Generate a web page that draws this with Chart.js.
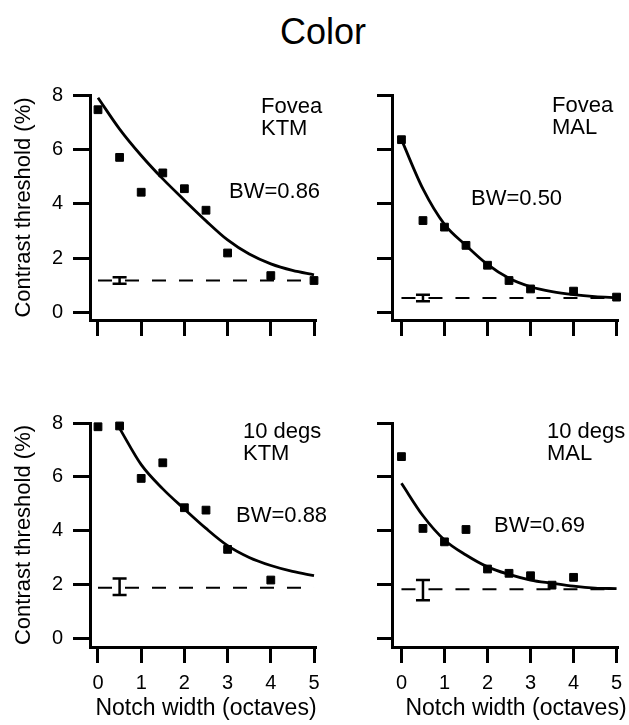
<!DOCTYPE html>
<html><head><meta charset="utf-8">
<script src="https://cdn.jsdelivr.net/npm/chart.js@4.4.1/dist/chart.umd.min.js"></script>
<style>
html,body{margin:0;padding:0;background:#fff;}
body{width:629px;height:725px;position:relative;overflow:hidden;font-family:"Liberation Sans",Arial,sans-serif;}
#title{position:absolute;left:0;width:646px;top:12px;text-align:center;font-size:36px;line-height:40px;color:#000;}
.panel{position:absolute;}
</style></head><body>
<div id="title">Color</div>
<div class="panel" style="left:0px;top:80px;width:330px;height:260px"><canvas id="c1"></canvas></div>
<div class="panel" style="left:330px;top:80px;width:299px;height:260px"><canvas id="c2"></canvas></div>
<div class="panel" style="left:0px;top:410px;width:330px;height:315px"><canvas id="c3"></canvas></div>
<div class="panel" style="left:330px;top:410px;width:299px;height:315px"><canvas id="c4"></canvas></div>
<script>
// ---- data ----
const xTicks = [0, 1, 2, 3, 4, 5];
const yTicks = [0, 2, 4, 6, 8];
const xTitle = 'Notch width (octaves)';
const yTitle = 'Contrast threshold (%)';

const notchFovea = [0, 0.5, 1, 1.5, 2, 2.5, 3, 4, 5];
const foveaKTM   = [7.46, 5.71, 4.43, 5.14, 4.56, 3.77, 2.20, 1.37, 1.19];
const foveaMAL   = [6.36, 3.39, 3.15, 2.48, 1.75, 1.19, 0.88, 0.80, 0.58];

const notch10KTM = [0, 0.5, 1, 1.5, 2, 2.5, 3, 4];
const deg10KTM   = [7.86, 7.89, 5.94, 6.52, 4.85, 4.76, 3.30, 2.16];
const notch10MAL = [0, 0.5, 1, 1.5, 2, 2.5, 3, 3.5, 4];
const deg10MAL   = [6.75, 4.08, 3.58, 4.04, 2.57, 2.41, 2.32, 1.97, 2.26];

const fitX        = [0, 0.5, 1, 1.5, 2, 2.5, 3, 3.5, 4, 4.5, 5];
const fitFoveaKTM = [7.90, 6.75, 5.78, 4.92, 4.14, 3.38, 2.68, 2.16, 1.80, 1.56, 1.40];
const fitFoveaMAL = [6.36, 4.55, 3.25, 2.48, 1.78, 1.27, 0.96, 0.78, 0.67, 0.60, 0.56];
const fitX10KTM   = [0.5, 1, 1.5, 2, 2.5, 3, 3.5, 4, 4.5, 5];
const fit10KTM    = [7.80, 6.45, 5.55, 4.80, 4.08, 3.44, 3.00, 2.70, 2.48, 2.32];
const fit10MAL    = [5.76, 4.55, 3.65, 3.09, 2.65, 2.37, 2.16, 2.04, 1.93, 1.86, 1.84];

const baseX = [0, 5];
const baseLevels = [1.19, 0.55, 1.87, 1.82];     // dashed detection thresholds
const errX = 0.5;
const errLow  = [1.07, 0.43, 1.60, 1.41];
const errHigh = [1.31, 0.67, 2.22, 2.16];

// ---- plugins ----
const notesPlugin = {
  id: 'notes',
  afterDraw(chart, args, opts) {
    const ctx = chart.ctx;
    ctx.save();
    ctx.fillStyle = '#000';
    ctx.textBaseline = 'alphabetic';
    (opts.items || []).forEach(it => {
      ctx.font = (it.size || 22) + 'px "Liberation Sans", Arial, sans-serif';
      ctx.textAlign = it.align || 'left';
      ctx.fillText(it.text, it.x - opts.ox, it.y - opts.oy);
    });
    ctx.restore();
  }
};
const errPlugin = {
  id: 'errbar',
  afterDatasetsDraw(chart, args, opts) {
    const xs = chart.scales.x, ys = chart.scales.y, ctx = chart.ctx;
    const px = xs.getPixelForValue(opts.x);
    const p1 = ys.getPixelForValue(opts.low), p2 = ys.getPixelForValue(opts.high);
    ctx.save();
    ctx.strokeStyle = '#000';
    ctx.lineWidth = 2.5;
    ctx.beginPath();
    ctx.moveTo(px, p1); ctx.lineTo(px, p2);
    ctx.moveTo(px - 7, p1); ctx.lineTo(px + 7, p1);
    ctx.moveTo(px - 7, p2); ctx.lineTo(px + 7, p2);
    ctx.stroke();
    ctx.restore();
  }
};

const FONT = '"Liberation Sans", Arial, sans-serif';

function makeChart(id, c) {
  const pts = c.x.map((x, i) => ({x, y: c.y[i]}));
  const fit = c.fx.map((x, i) => ({x, y: c.fy[i]}));
  const base = baseX.map(x => ({x, y: baseLevels[c.k]}));
  const notes = c.notes.slice();
  if (c.xLabels) notes.push({text: xTitle, x: c.xTitleX, y: 715, size: 23, align: 'center'});
  return new Chart(document.getElementById(id), {
    type: 'scatter',
    data: { datasets: [
      { type: 'scatter', data: pts, pointStyle: 'rect', pointRadius: 5.5, pointHoverRadius: 5.5,
        backgroundColor: '#000', borderColor: '#000', borderWidth: 1, clip: false },
      { type: 'line', data: fit, borderColor: '#000', borderWidth: 2.8, pointRadius: 0,
        cubicInterpolationMode: 'monotone', fill: false, clip: false },
      { type: 'line', data: base, borderColor: '#000', borderWidth: 2, borderDash: [14, 13],
        pointRadius: 0, fill: false, clip: false }
    ]},
    options: {
      responsive: true, maintainAspectRatio: false, animation: false,
      events: [],
      layout: { padding: { top: c.padTop, right: c.padRight, left: 0, bottom: 0 } },
      plugins: {
        legend: { display: false }, tooltip: { enabled: false },
        notes: { items: notes, ox: c.left, oy: c.top },
        errbar: { x: errX, low: errLow[c.k], high: errHigh[c.k] }
      },
      scales: {
        x: {
          type: 'linear', bounds: 'data', min: c.xMin, max: c.xMax,
          afterBuildTicks: s => { s.ticks = xTicks.map(v => ({value: v})); },
          afterFit: s => { s.height = c.xH; s.paddingLeft = 0; s.paddingRight = 0; },
          ticks: { display: c.xLabels, autoSkip: false, maxRotation: 0, padding: 8, color: '#000',
                   font: { family: FONT, size: 20 } },
          grid: { drawOnChartArea: false, drawTicks: true, tickLength: 16, lineWidth: 3, color: '#000' },
          border: { display: true, color: '#000', width: 3 },
          title: { display: false }
        },
        y: {
          type: 'linear', bounds: 'data', min: c.yMin, max: 8,
          afterBuildTicks: s => { s.ticks = yTicks.map(v => ({value: v})); },
          afterFit: s => { s.width = c.yW; s.paddingTop = 0; s.paddingBottom = 0; },
          ticks: { display: c.yLabels, padding: 10, color: '#000', font: { family: FONT, size: 20 } },
          grid: { drawOnChartArea: false, drawTicks: true, tickLength: c.yTick, lineWidth: 3, color: '#000' },
          border: { display: true, color: '#000', width: 3 },
          title: { display: c.yLabels, text: yTitle, color: '#000',
                   font: { family: FONT, size: 22 }, padding: { top: 11, bottom: 0 } }
        }
      }
    },
    plugins: [notesPlugin, errPlugin]
  });
}

makeChart('c1', { k: 0, x: notchFovea, y: foveaKTM, fx: fitX, fy: fitFoveaKTM,
  left: 0, top: 80, padTop: 15, padRight: 15, xH: 20, yW: 90, yTick: 17,
  xMin: -0.185, xMax: 5.023, yMin: -0.26, xLabels: false, yLabels: true,
  notes: [{text: 'Fovea', x: 261, y: 113}, {text: 'KTM', x: 261, y: 135}, {text: 'BW=0.86', x: 229, y: 198}] });
makeChart('c2', { k: 1, x: notchFovea, y: foveaMAL, fx: fitX, fy: fitFoveaMAL,
  left: 330, top: 80, padTop: 15, padRight: 12, xH: 20, yW: 62, yTick: 15,
  xMin: -0.22, xMax: 5.01, yMin: -0.26, xLabels: false, yLabels: false,
  notes: [{text: 'Fovea', x: 552, y: 112}, {text: 'MAL', x: 552, y: 134}, {text: 'BW=0.50', x: 471, y: 205}] });
makeChart('c3', { k: 2, x: notch10KTM, y: deg10KTM, fx: fitX10KTM, fy: fit10KTM,
  left: 0, top: 410, padTop: 13, padRight: 15, xH: 78, yW: 90, yTick: 17,
  xMin: -0.185, xMax: 5.023, yMin: -0.33, xLabels: true, yLabels: true, xTitleX: 206,
  notes: [{text: '10 degs', x: 243, y: 438}, {text: 'KTM', x: 243, y: 460}, {text: 'BW=0.88', x: 236, y: 522}] });
makeChart('c4', { k: 3, x: notch10MAL, y: deg10MAL, fx: fitX, fy: fit10MAL,
  left: 330, top: 410, padTop: 13, padRight: 12, xH: 78, yW: 62, yTick: 15,
  xMin: -0.22, xMax: 5.01, yMin: -0.33, xLabels: true, yLabels: false, xTitleX: 516,
  notes: [{text: '10 degs', x: 547, y: 438}, {text: 'MAL', x: 547, y: 460}, {text: 'BW=0.69', x: 494, y: 532}] });
</script>
</body></html>
